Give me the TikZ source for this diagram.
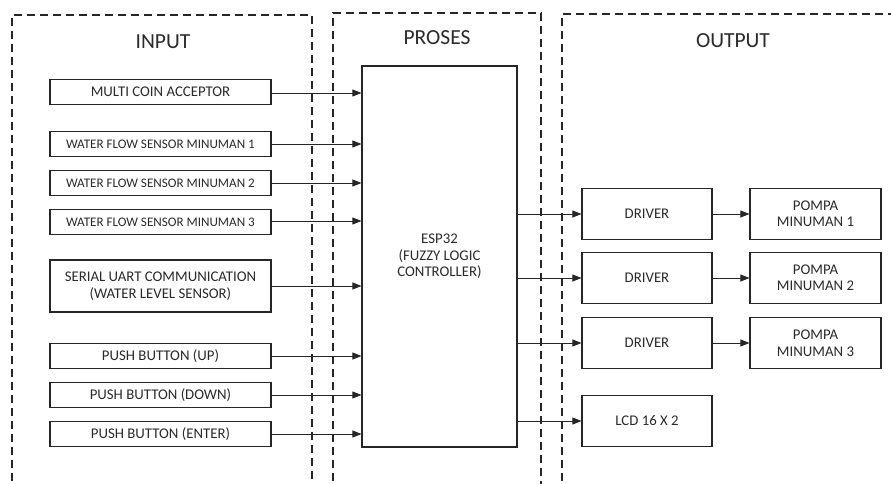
\documentclass[tikz,border=0pt]{standalone}
\usepackage{fontspec}
\setmainfont{Carlito}
\usetikzlibrary{arrows.meta}
\definecolor{txt}{HTML}{2A2A2A}
\begin{document}
\begin{tikzpicture}[x=1pt,y=-1pt,
  blk/.style={draw=black!85,line width=1.1pt,rectangle,inner sep=0pt,align=center,text=txt,font=\fontsize{14.8}{16.5}\selectfont},
  sblk/.style={blk,font=\fontsize{13.1}{15}\selectfont},
  group/.style={draw=black!85,line width=1.1pt,dash pattern=on 8pt off 5pt},
  ttl/.style={text=txt,font=\fontsize{21.5}{24}\selectfont,inner sep=0pt},
  arr/.style={draw=black!85,line width=0.8pt,-{Triangle[length=9pt,width=7pt]}}]
\useasboundingbox (0,0) rectangle (891,484);
\begin{scope}
\clip (0,0) rectangle (891,484);
\draw[group] (12,494) |- (312,15) -- (312,494);
\draw[group] (333,494) |- (541,13) -- (541,494);
\draw[group] (562,494) |- (901,14);
\end{scope}
\node[ttl] (tin) at (163,42) {INPUT};
\node[ttl] (tpr) at (437,38) {PROSES};
\node[ttl] (tout) at (733,41) {OUTPUT};
% inputs
\node[blk,minimum width=221pt,minimum height=25pt] (mc) at (160.5,92) {MULTI COIN ACCEPTOR};
\node[sblk,minimum width=221pt,minimum height=25pt] (w1) at (160.5,144) {WATER FLOW SENSOR MINUMAN 1};
\node[sblk,minimum width=221pt,minimum height=25pt] (w2) at (160.5,183) {WATER FLOW SENSOR MINUMAN 2};
\node[sblk,minimum width=221pt,minimum height=25pt] (w3) at (160.5,222) {WATER FLOW SENSOR MINUMAN 3};
\node[blk,minimum width=221pt,minimum height=52pt] (su) at (160.5,286) {SERIAL UART COMMUNICATION\\(WATER LEVEL SENSOR)};
\node[blk,minimum width=221pt,minimum height=25pt] (pu) at (160.5,356) {PUSH BUTTON (UP)};
\node[blk,minimum width=221pt,minimum height=25pt] (pd) at (160.5,395) {PUSH BUTTON (DOWN)};
\node[blk,minimum width=221pt,minimum height=25pt] (pe) at (160.5,434) {PUSH BUTTON (ENTER)};
% process
\node[blk,minimum width=155pt,minimum height=381pt] (esp) at (439.5,256.5) {ESP32\\(FUZZY LOGIC\\CONTROLLER)};
% outputs
\node[blk,minimum width=130pt,minimum height=51pt] (d1) at (647,214) {DRIVER};
\node[blk,minimum width=130pt,minimum height=51pt] (d2) at (647,278) {DRIVER};
\node[blk,minimum width=130pt,minimum height=51pt] (d3) at (647,343) {DRIVER};
\node[blk,minimum width=130pt,minimum height=51pt] (lcd) at (647,421) {LCD 16 X 2};
\node[blk,minimum width=131pt,minimum height=51pt] (p1) at (815.5,214) {POMPA\\MINUMAN 1};
\node[blk,minimum width=131pt,minimum height=51pt] (p2) at (815.5,278) {POMPA\\MINUMAN 2};
\node[blk,minimum width=131pt,minimum height=51pt] (p3) at (815.5,343) {POMPA\\MINUMAN 3};
% connectors
\foreach \n/\y in {mc/93,w1/144,w2/183,w3/221,su/286,pu/356,pd/395,pe/434}{
  \draw[arr] (\n.east |- 0,\y) -- (esp.west |- 0,\y);
}
\foreach \n in {d1,d2,d3,lcd}{
  \draw[arr] (esp.east |- \n.west) -- (\n.west);
}
\draw[arr] (d1) -- (p1);
\draw[arr] (d2) -- (p2);
\draw[arr] (d3) -- (p3);
\end{tikzpicture}
\end{document}
